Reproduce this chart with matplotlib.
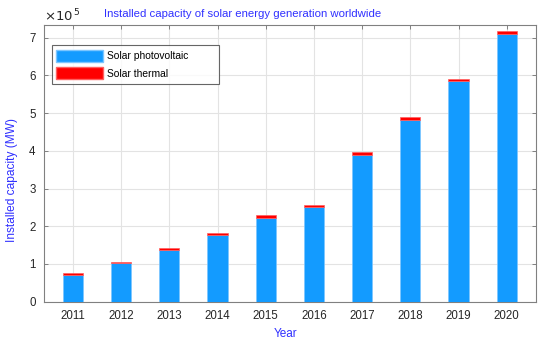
import matplotlib
matplotlib.use("Agg")
import matplotlib.pyplot as plt
from matplotlib.ticker import FuncFormatter
from matplotlib.patches import Patch

years = [2011, 2012, 2013, 2014, 2015, 2016, 2017, 2018, 2019, 2020]
photovoltaic = [70800, 101500, 136000, 175500, 222500, 250000, 388000, 482500, 584000, 708500]
thermal = [4500, 4000, 5500, 5500, 6000, 6500, 7500, 7500, 7500, 8500]

BLUE = "#139bff"
RED = "#ff0000"
TXT_BLUE = "#3030ff"
TICK = "#262626"

plt.rcParams["font.family"] = ["Liberation Sans", "DejaVu Sans"]

fig = plt.figure(figsize=(5.5, 3.49), dpi=100)
ax = fig.add_axes([0.08, 0.1355, 0.894, 0.7925])

ax.bar(years, photovoltaic, width=0.42, color=BLUE, edgecolor="#7cc6ff", linewidth=0.5, zorder=3)
ax.bar(years, thermal, bottom=photovoltaic, width=0.42, color=RED, edgecolor="#ff6060", linewidth=0.5, zorder=3)

ax.set_xlim(2010.4, 2020.6)
ax.set_ylim(0, 7.33e5)
ax.set_xticks(years)
ax.set_yticks([i * 1e5 for i in range(8)])
ax.yaxis.set_major_formatter(FuncFormatter(lambda v, p: f"{v / 1e5:.0f}"))

ax.grid(True, color="#e3e3e3", linewidth=0.8, zorder=0)
ax.set_axisbelow(True)
for s in ax.spines.values():
    s.set_color("#808080")
    s.set_linewidth(0.8)
ax.tick_params(direction="in", top=True, right=True, length=3, width=0.7,
               color="#808080", labelcolor=TICK, labelsize=8.3, pad=6)

ax.set_xlabel("Year", color=TXT_BLUE, fontsize=8.5)
ax.xaxis.set_label_coords(0.491, -0.095)
ax.set_ylabel("Installed capacity (MW)", color=TXT_BLUE, fontsize=8.6)
ax.yaxis.set_label_coords(-0.052, 0.44)

fig.text(243 / 550, 1 - 14 / 349, "Installed capacity of solar energy generation worldwide",
         color=TXT_BLUE, fontsize=8.2, ha="center", va="center")
fig.text(0.08, 1 - 16 / 349, r"$\times 10^{\,5}$", color=TICK, fontsize=9.5, ha="left", va="center")

# MATLAB-style legend: wide swatches, lots of room after the text
handles = [Patch(facecolor=BLUE, edgecolor="#7cc6ff", label="Solar photovoltaic" + " " * 9),
           Patch(facecolor=RED, edgecolor="#ff6060", label="Solar thermal")]
leg = ax.legend(handles=handles, loc="upper left", bbox_to_anchor=(0.016, 0.928),
                fontsize=7.4, frameon=True, fancybox=False, handlelength=4.5, handleheight=1.45,
                handletextpad=0.4, borderpad=0.45, labelspacing=0.5, borderaxespad=0)
leg.get_frame().set_edgecolor("#404040")
leg.get_frame().set_linewidth(0.8)

fig.savefig("out.png", dpi=100)
